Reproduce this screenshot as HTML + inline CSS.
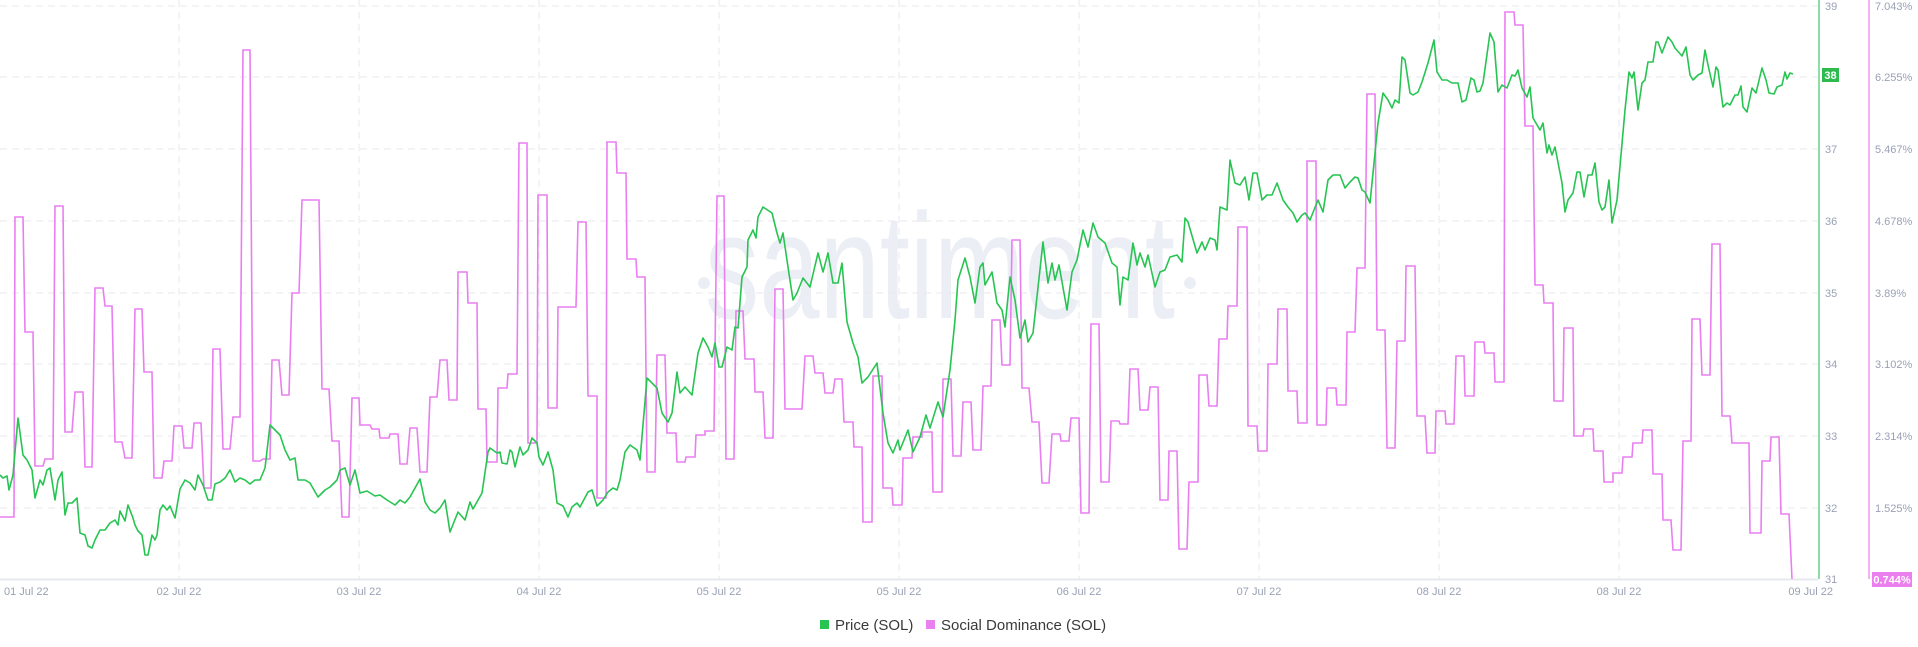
<!DOCTYPE html>
<html><head><meta charset="utf-8"><style>
html,body{margin:0;padding:0;background:#fff;}
svg{display:block;font-family:"Liberation Sans",sans-serif;}
</style></head><body>
<svg width="1918" height="647" viewBox="0 0 1918 647" xmlns="http://www.w3.org/2000/svg">
<rect width="1918" height="647" fill="#fff"/>
<text x="940" y="318" text-anchor="middle" font-size="150" fill="#eceef5" textLength="470" lengthAdjust="spacingAndGlyphs">santiment</text>
<circle cx="704" cy="283" r="6" fill="#eceef5"/><circle cx="1190" cy="283" r="6" fill="#eceef5"/>
<g stroke="#e8eaef" stroke-width="1" stroke-dasharray="7 5" fill="none">
<path d="M0 6H1818M0 77H1818M0 149H1818M0 221H1818M0 293H1818M0 364H1818M0 436H1818M0 508H1818"/>
<path d="M179 0V579M359 0V579M539 0V579M719 0V579M899 0V579M1079 0V579M1259 0V579M1439 0V579M1619 0V579"/>
</g>
<line x1="0" y1="579.5" x2="1818" y2="579.5" stroke="#e6e8ed" stroke-width="2"/>
<line x1="1819" y1="0" x2="1819" y2="579" stroke="#90dca6" stroke-width="2"/>
<line x1="1869" y1="0" x2="1869" y2="579" stroke="#f3b3f3" stroke-width="2"/>
<polyline fill="none" stroke="#e97ef0" stroke-width="1.6" stroke-linejoin="miter" points="0,517 14,517 15,217 23,217 25,332 33,332 35,466 43,466 45,459 53,459 55,206 63,206 65,432 72,432 75,392 83,392 85,467 92,467 95,288 103,288 105,306 112,306 115,442 122,442 125,458 132,458 135,309 142,309 144,372 152,372 154,478 162,478 164,461 172,461 174,426 182,426 184,448 192,448 194,423 201,423 204,488 211,488 213,349 220,349 223,449 230,449 233,417 240,417 243,50 250,50 253,461 260,461 263,459 270,459 272,360 279,360 282,395 289,395 292,293 299,293 302,200 319,200 322,389 329,389 332,441 339,441 342,517 349,517 352,398 359,398 360,425 370,425 372,429 379,429 380,438 389,438 390,434 398,434 400,464 407,464 410,428 417,428 420,472 427,472 430,397 437,397 440,360 447,360 449,400 457,400 458,272 467,272 468,303 477,303 478,409 486,409 487,462 497,462 498,388 507,388 508,374 517,374 519,143 527,143 528,443 537,443 538,195 547,195 548,408 557,408 558,307 576,307 578,222 586,222 588,396 597,396 597,498 606,498 607,142 616,142 617,173 626,173 627,259 636,259 637,277 645,277 647,472 655,472 657,355 665,355 667,433 676,433 677,462 685,462 686,457 695,457 696,435 705,435 705,431 714,431 717,196 724,196 726,459 734,459 736,311 743,311 745,359 754,359 755,392 763,392 765,438 773,438 775,289 783,289 785,409 802,409 805,356 813,356 815,373 823,373 825,393 833,393 835,379 842,379 844,422 853,422 854,447 862,447 863,522 872,522 873,376 882,376 883,488 892,488 893,505 902,505 903,458 912,458 913,437 922,437 922,432 932,432 933,492 942,492 943,379 951,379 953,456 961,456 963,402 971,402 973,450 981,450 983,386 991,386 992,320 1000,320 1002,365 1010,365 1012,240 1020,240 1022,388 1029,388 1032,422 1039,422 1042,483 1049,483 1052,434 1060,434 1061,441 1069,441 1071,418 1079,418 1081,513 1089,513 1091,324 1099,324 1101,482 1109,482 1111,421 1119,421 1120,424 1128,424 1130,369 1138,369 1140,410 1148,410 1150,387 1158,387 1160,500 1168,500 1169,451 1177,451 1179,549 1187,549 1189,482 1198,482 1199,375 1207,375 1209,406 1217,406 1219,339 1227,339 1228,306 1237,306 1238,227 1247,227 1248,426 1257,426 1258,451 1267,451 1268,364 1277,364 1278,309 1287,309 1288,391 1297,391 1298,423 1307,423 1307,161 1316,161 1317,425 1326,425 1327,388 1336,388 1337,405 1346,405 1347,332 1355,332 1357,268 1365,268 1367,94 1375,94 1377,330 1385,330 1387,448 1395,448 1397,341 1405,341 1406,266 1415,266 1417,416 1425,416 1427,453 1435,453 1436,411 1445,411 1446,424 1454,424 1456,356 1464,356 1465,396 1474,396 1475,342 1484,342 1485,353 1494,353 1495,382 1504,382 1505,12 1514,12 1515,25 1523,25 1525,126 1533,126 1535,285 1543,285 1544,303 1553,303 1554,401 1563,401 1564,328 1573,328 1574,436 1583,436 1584,429 1593,429 1594,451 1603,451 1604,482 1613,482 1613,473 1622,473 1623,457 1632,457 1633,443 1642,443 1643,430 1652,430 1653,474 1662,474 1663,520 1671,520 1673,550 1681,550 1683,441 1691,441 1692,319 1700,319 1702,375 1710,375 1712,244 1720,244 1722,416 1730,416 1732,443 1749,443 1750,533 1761,533 1762,461 1770,461 1771,437 1779,437 1781,514 1789,514 1792,579"/>
<polyline fill="none" stroke="#27c452" stroke-width="1.6" stroke-linejoin="round" points="0,475 3,478 7,476 9,490 13,475 18,418 23,455 27,460 32,470 35,498 40,480 43,485 47,470 50,468 55,500 58,480 62,472 65,515 68,503 72,503 77,498 80,533 85,535 88,546 92,548 95,540 100,530 105,530 110,523 115,520 118,525 120,511 125,521 128,505 133,518 135,525 138,531 142,535 145,555 148,555 152,535 155,540 157,535 160,510 163,505 167,510 170,506 175,518 180,489 185,480 190,483 195,490 198,475 203,485 208,500 212,500 215,484 220,482 225,478 230,470 235,482 240,478 245,480 250,484 255,480 260,480 265,468 270,425 275,430 280,435 285,450 290,460 295,458 298,480 305,480 310,483 318,497 325,490 330,487 337,480 340,470 345,468 350,485 355,470 360,493 367,491 375,496 380,495 387,500 395,505 400,500 405,503 410,497 415,488 420,479 425,502 430,510 435,513 440,508 445,500 450,532 458,512 465,520 470,502 473,509 482,493 488,452 490,448 497,453 500,452 502,463 507,464 510,450 512,452 515,467 520,447 523,455 528,450 532,438 537,443 539,457 543,465 548,452 553,470 557,503 563,506 568,517 572,507 577,503 580,507 588,492 592,490 597,506 603,500 608,492 613,488 617,490 620,480 625,452 630,445 637,450 640,460 647,378 657,388 662,413 668,422 672,413 677,372 680,393 685,387 692,395 698,353 703,338 708,347 712,357 715,343 719,367 722,367 727,347 732,350 735,327 738,328 742,277 747,267 748,240 753,230 756,238 758,217 763,207 772,213 777,233 780,243 783,233 788,267 793,300 797,293 803,278 810,287 818,253 823,272 828,253 833,283 838,283 842,263 847,322 853,343 858,357 862,383 868,377 877,363 883,413 888,443 893,453 898,440 900,450 908,430 913,452 920,437 926,415 930,428 938,402 943,417 950,370 955,320 958,280 965,258 970,277 975,303 980,267 983,263 985,285 992,272 997,303 1002,310 1005,327 1010,277 1015,300 1020,338 1025,320 1028,342 1033,333 1043,242 1048,283 1052,263 1055,280 1059,265 1067,310 1072,272 1077,260 1083,230 1088,247 1093,223 1098,237 1105,243 1112,263 1117,267 1120,305 1123,277 1128,280 1133,243 1137,265 1140,253 1145,267 1148,255 1155,287 1160,272 1165,270 1170,257 1177,255 1182,262 1185,218 1188,222 1197,253 1202,242 1205,250 1210,238 1215,240 1217,250 1220,207 1227,210 1230,160 1235,183 1240,185 1245,177 1249,200 1253,173 1257,173 1262,200 1267,195 1272,195 1277,183 1283,200 1288,207 1293,213 1297,222 1302,215 1305,213 1310,220 1318,200 1323,212 1328,180 1333,175 1340,175 1345,188 1350,182 1355,177 1358,178 1362,190 1365,192 1370,203 1373,173 1378,123 1383,93 1388,100 1392,108 1395,100 1399,103 1402,57 1405,60 1410,93 1413,95 1418,92 1422,82 1428,63 1434,40 1437,72 1442,80 1447,80 1452,83 1458,83 1462,102 1466,100 1471,78 1474,80 1477,92 1480,91 1483,83 1490,33 1494,42 1498,92 1502,85 1507,88 1512,75 1515,76 1518,70 1522,88 1527,97 1530,87 1533,118 1540,130 1543,123 1547,153 1549,145 1552,155 1555,147 1562,183 1565,212 1568,200 1573,193 1577,172 1580,172 1584,197 1588,175 1592,175 1595,163 1599,202 1602,210 1605,207 1609,180 1612,223 1617,200 1625,110 1629,72 1632,78 1634,72 1638,110 1642,83 1645,80 1648,62 1653,62 1656,42 1658,42 1662,53 1668,37 1672,42 1675,48 1682,56 1686,47 1690,75 1693,80 1698,75 1702,73 1705,50 1708,65 1713,87 1716,67 1718,70 1723,107 1727,103 1730,105 1735,95 1738,95 1741,86 1743,107 1747,112 1752,88 1756,93 1762,68 1766,80 1769,93 1774,94 1777,87 1782,85 1785,72 1787,79 1790,73 1793,74"/>
<g font-size="11" fill="#9aa1b5">
<text x="1825" y="10">39</text>
<text x="1825" y="153">37</text>
<text x="1825" y="225">36</text>
<text x="1825" y="297">35</text>
<text x="1825" y="368">34</text>
<text x="1825" y="440">33</text>
<text x="1825" y="512">32</text>
<text x="1825" y="583">31</text>
<text x="1875" y="10">7.043%</text>
<text x="1875" y="81">6.255%</text>
<text x="1875" y="153">5.467%</text>
<text x="1875" y="225">4.678%</text>
<text x="1875" y="297">3.89%</text>
<text x="1875" y="368">3.102%</text>
<text x="1875" y="440">2.314%</text>
<text x="1875" y="512">1.525%</text>
<text x="4" y="595">01 Jul 22</text>
<g text-anchor="middle">
<text x="179" y="595">02 Jul 22</text>
<text x="359" y="595">03 Jul 22</text>
<text x="539" y="595">04 Jul 22</text>
<text x="719" y="595">05 Jul 22</text>
<text x="899" y="595">05 Jul 22</text>
<text x="1079" y="595">06 Jul 22</text>
<text x="1259" y="595">07 Jul 22</text>
<text x="1439" y="595">08 Jul 22</text>
<text x="1619" y="595">08 Jul 22</text>
</g>
<text x="1833" y="595" text-anchor="end">09 Jul 22</text>
</g>
<rect x="1822" y="68" width="17" height="14" fill="#2dbb4f"/>
<text x="1830.5" y="79" font-size="11" font-weight="bold" fill="#fff" text-anchor="middle">38</text>
<rect x="1872" y="572" width="40" height="15" fill="#ec7fee"/>
<text x="1892" y="583.5" font-size="11" font-weight="bold" fill="#fff" text-anchor="middle">0.744%</text>
<rect x="820" y="620" width="9" height="9" fill="#27c452"/>
<text x="835" y="630" font-size="15" fill="#3a3a3a">Price (SOL)</text>
<rect x="926" y="620" width="9" height="9" fill="#ea80f0"/>
<text x="941" y="630" font-size="15" fill="#3a3a3a">Social Dominance (SOL)</text>
</svg>
</body></html>
